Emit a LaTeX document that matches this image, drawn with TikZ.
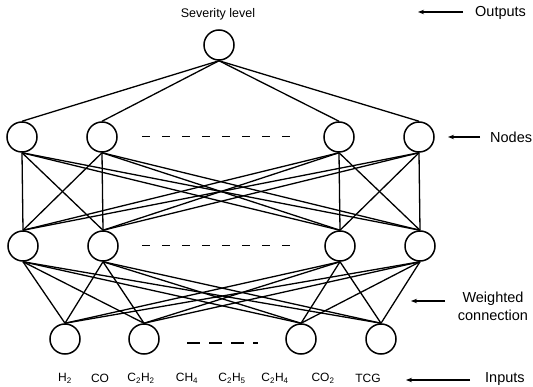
\documentclass[tikz,border=0pt]{standalone}
\usepackage{fontspec}
\setmainfont{Liberation Sans}
\usetikzlibrary{arrows.meta}
\begin{document}
\begin{tikzpicture}[x=1pt,y=-1pt,
  neuron/.style={circle,draw,line width=1.5pt,minimum size=30pt,inner sep=0pt},
  link/.style={line width=1.3pt},
  sidelabel/.style={font=\fontsize{14.5}{18}\selectfont,inner sep=0pt},
  inlabel/.style={font=\fontsize{12}{14}\selectfont,inner sep=0pt},
  pointer/.style={line width=1.1pt,-{Stealth[length=6pt,width=4.5pt]}},
  gap/.style={line width=1pt,dash pattern=on 8pt off 12pt}
]
\useasboundingbox (0,0) rectangle (533,387);
% nodes
\node[neuron] (o) at (219,45) {};
\foreach \i/\x in {1/22,2/102,3/339,4/419}{
  \node[neuron] (a\i) at (\x,137) {};
  \node[neuron] (b\i) at (\x+1,246) {};
}
\foreach \i/\x in {1/65,2/144,3/301,4/381}{
  \node[neuron] (c\i) at (\x,339) {};
}
% connections
\foreach \i in {1,...,4}{
  \draw[link] (o.south) -- (a\i.north);
  \foreach \j in {1,...,4}{
    \draw[link] (a\i.south) -- (b\j.north);
    \draw[link] (b\i.south) -- (c\j.north);
  }
}
% ellipsis dashes
\coordinate (d1s) at (142,137); \coordinate (d1e) at (292,137);
\coordinate (d2s) at (142,246); \coordinate (d2e) at (292,246);
\coordinate (d3s) at (187,343); \coordinate (d3e) at (258,343);
\draw[gap] (d1s) -- (d1e);
\draw[gap] (d2s) -- (d2e);
\draw[line width=1.6pt,dash pattern=on 13pt off 9pt] (d3s) -- (d3e);
% title
\node[font=\fontsize{12.5}{15}\selectfont,inner sep=0pt] (sev) at (218,14) {Severity level};
% side labels
\node[sidelabel,anchor=west] (outl) at (475,13) {Outputs};
\node[sidelabel,anchor=west] (nodl) at (490,137) {Nodes};
\node[sidelabel,align=center] (wcl) at (493,306) {Weighted\\connection};
\node[sidelabel,anchor=west] (inl) at (485,379) {Inputs};
\coordinate (p1a) at (463,12); \coordinate (p1b) at (418,12);
\coordinate (p2a) at (480,137); \coordinate (p2b) at (448,137);
\coordinate (p3a) at (445,301); \coordinate (p3b) at (411,301);
\coordinate (p4a) at (470,380); \coordinate (p4b) at (406,380);
\draw[pointer] (p1a) -- (p1b);
\draw[pointer] (p2a) -- (p2b);
\draw[pointer] (p3a) -- (p3b);
\draw[pointer] (p4a) -- (p4b);
% input labels
\node[inlabel] (l1) at (65,378) {H\textsubscript{2}};
\node[inlabel] (l2) at (100,378) {CO};
\node[inlabel] (l3) at (141,378) {C\textsubscript{2}H\textsubscript{2}};
\node[inlabel] (l4) at (187,378) {CH\textsubscript{4}};
\node[inlabel] (l5) at (232,378) {C\textsubscript{2}H\textsubscript{5}};
\node[inlabel] (l6) at (275,378) {C\textsubscript{2}H\textsubscript{4}};
\node[inlabel] (l7) at (323,378) {CO\textsubscript{2}};
\node[inlabel] (l8) at (368,378) {TCG};
\end{tikzpicture}
\end{document}
